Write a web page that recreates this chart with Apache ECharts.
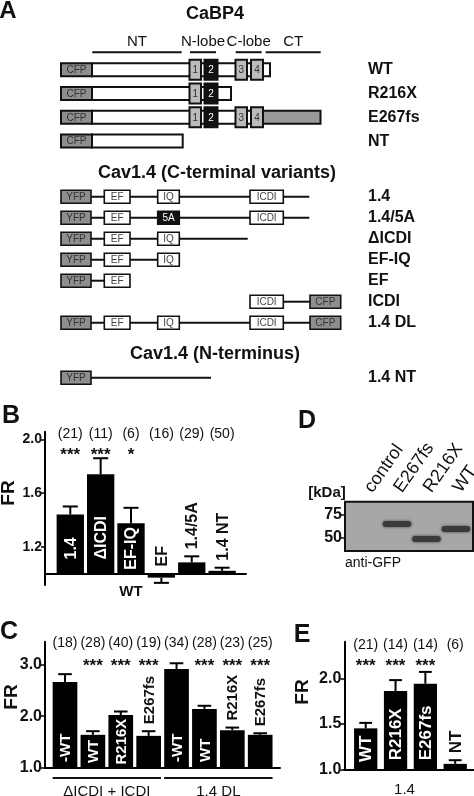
<!DOCTYPE html>
<html>
<head>
<meta charset="utf-8">
<script src="https://cdn.jsdelivr.net/npm/echarts@6/dist/echarts.min.js"></script>
<style>
  html, body { margin: 0; padding: 0; background: #fff; }
  #chart { width: 474px; height: 796px; }
</style>
</head>
<body>
<div id="chart"></div>
<script>
const FONT = '"Liberation Sans", Arial, Helvetica, sans-serif';

// Panel A - construct maps. x in schematic units, first value = row index
const cabpNames = ['WT', 'R216X', 'E267fs', 'NT'];
const cabpParts = [
  [0, 31, 209, 'body', ''], [0, 0, 31, 'fp', 'CFP'],
  [0, 128.5, 140, 'lobe', '1'], [0, 143.5, 156.5, 'lobeDark', '2'],
  [0, 174.5, 186, 'lobe', '3'], [0, 190, 202, 'lobe', '4'],
  [1, 31, 170, 'body', ''], [1, 0, 31, 'fp', 'CFP'],
  [1, 128.5, 140, 'lobe', '1'], [1, 143.5, 156.5, 'lobeDark', '2'],
  [2, 31, 202, 'body', ''], [2, 202, 259.5, 'tail', ''], [2, 0, 31, 'fp', 'CFP'],
  [2, 128.5, 140, 'lobe', '1'], [2, 143.5, 156.5, 'lobeDark', '2'],
  [2, 174.5, 186, 'lobe', '3'], [2, 190, 202, 'lobe', '4'],
  [3, 31, 121.7, 'body', ''], [3, 0, 31, 'fp', 'CFP']
];
const cabpRegions = [['NT', 31.3, 120.7], ['N-lobe', 129, 155], ['C-lobe', 174.7, 200.7], ['CT', 204.7, 259.7]];

const cavNames = ['1.4', '1.4/5A', '\u0394ICDI', 'EF-IQ', 'EF', 'ICDI', '1.4 DL'];
const cavParts = [
  [0, 30, 248.3, 'line'], [0, 0, 30, 'fp2', 'YFP'], [0, 43.3, 69, 'dom', 'EF'], [0, 96.7, 118.3, 'dom', 'IQ'], [0, 189, 222.3, 'dom', 'ICDI'],
  [1, 30, 248.3, 'line'], [1, 0, 30, 'fp2', 'YFP'], [1, 43.3, 69, 'dom', 'EF'], [1, 96.7, 118.3, 'domDark', '5A'], [1, 189, 222.3, 'dom', 'ICDI'],
  [2, 30, 186.7, 'line'], [2, 0, 30, 'fp2', 'YFP'], [2, 43.3, 69, 'dom', 'EF'], [2, 96.7, 118.3, 'dom', 'IQ'],
  [3, 30, 96.7, 'line'], [3, 0, 30, 'fp2', 'YFP'], [3, 43.3, 69, 'dom', 'EF'], [3, 96.7, 118.3, 'dom', 'IQ'],
  [4, 30, 43.3, 'line'], [4, 0, 30, 'fp2', 'YFP'], [4, 43.3, 69, 'dom', 'EF'],
  [5, 222.3, 249, 'line'], [5, 189, 222.3, 'dom', 'ICDI'], [5, 249, 279.7, 'fp2', 'CFP'],
  [6, 30, 249, 'line'], [6, 0, 30, 'fp2', 'YFP'], [6, 43.3, 69, 'dom', 'EF'], [6, 96.7, 118.3, 'dom', 'IQ'], [6, 189, 222.3, 'dom', 'ICDI'], [6, 249, 279.7, 'fp2', 'CFP']
];
const ntNames = ['1.4 NT'];
const ntParts = [[0, 30, 150, 'line'], [0, 0, 30, 'fp2', 'YFP']];

// Panel B - FR of CaBP4 WT with Cav1.4 variants
const bLabels = ['1.4', '\u0394ICDI', 'EF-IQ', 'EF', '1.4/5A', '1.4 NT'];
const bMean = [1.44, 1.74, 1.375, 0.969, 1.083, 1.02];
const bErr = [1.50, 1.86, 1.49, 0.93, 1.128, 1.043];
const bN = ['(21)', '(11)', '(6)', '(16)', '(29)', '(50)'];
const bSig = ['***', '***', '*', '', '', ''];
const bTicks = [1.2, 1.6, 2.0];
const bGroups = [[0, 4, 'WT', false]];

// Panel C
const cLabels = ['-WT', 'WT', 'R216X', 'E267fs', '-WT', 'WT', 'R216X', 'E267fs'];
const cMean = [2.66, 1.64, 2.02, 1.62, 2.91, 2.14, 1.73, 1.64];
const cErr = [2.81, 1.71, 2.09, 1.71, 3.02, 2.20, 1.78, 1.67];
const cN = ['(18)', '(28)', '(40)', '(19)', '(34)', '(28)', '(23)', '(25)'];
const cSig = ['', '***', '***', '***', '', '***', '***', '***'];
const cTicks = [1.0, 2.0, 3.0];
const cGroups = [[0, 3, '\u0394ICDI + ICDI', true], [4, 7, '1.4 DL', true]];

// Panel D - western blot, anti-GFP
const lanes = ['control', 'E267fs', 'R216X', 'WT'];
const bands = [[1, 65], [2, 49], [3, 59.6]]; // lane, apparent size (kDa)
const markers = [75, 50];

// Panel E
const eLabels = ['WT', 'R216X', 'E267fs', 'NT'];
const eMean = [1.45, 1.86, 1.94, 1.06];
const eErr = [1.51, 1.98, 2.07, 1.10];
const eN = ['(21)', '(14)', '(14)', '(6)'];
const eSig = ['***', '***', '***', ''];
const eTicks = [1.0, 1.5, 2.0];
const eGroups = [[0, 2.6, '1.4', false]];

const partStyle = {
  fp: { fill: '#8e8e8e', h: 13, lw: 2, text: '#333' },
  fp2: { fill: '#8e8e8e', h: 13, lw: 1.6, text: '#333' },
  body: { fill: '#fff', h: 13, lw: 2 },
  tail: { fill: '#9a9a9a', h: 13, lw: 2 },
  lobe: { fill: '#bcbcbc', h: 20, lw: 2, text: '#333' },
  lobeDark: { fill: '#111', h: 20, lw: 2, text: '#fff' },
  dom: { fill: '#fff', h: 13, lw: 1.6, text: '#444' },
  domDark: { fill: '#111', h: 13, lw: 1.6, text: '#fff' }
};

const measureCtx = document.createElement('canvas').getContext('2d');
function textWidth(t, font) {
  measureCtx.font = font;
  return measureCtx.measureText(t).width;
}

function partRenderer(parts) {
  return function (params, api) {
    const p = parts[params.dataIndex];
    const a = api.coord([p[1], p[0]]);
    const b = api.coord([p[2], p[0]]);
    if (p[3] === 'line') {
      return { type: 'line', shape: { x1: a[0], y1: a[1], x2: b[0], y2: b[1] }, style: { stroke: '#111', lineWidth: 2 } };
    }
    const st = partStyle[p[3]];
    const children = [{
      type: 'rect',
      shape: { x: a[0], y: a[1] - st.h / 2, width: b[0] - a[0], height: st.h },
      style: { fill: st.fill, stroke: '#111', lineWidth: st.lw }
    }];
    if (p[4]) {
      children.push({
        type: 'text', x: (a[0] + b[0]) / 2, y: a[1] + 0.5,
        style: { text: p[4], fill: st.text, font: '10px ' + FONT, align: 'center', verticalAlign: 'middle' }
      });
    }
    return { type: 'group', children: children };
  };
}

function regionRenderer(params, api) {
  const r = cabpRegions[params.dataIndex];
  const a = api.coord([r[1], 0]);
  const b = api.coord([r[2], 0]);
  const y = a[1] - 17.5;
  return {
    type: 'group',
    children: [
      { type: 'line', shape: { x1: a[0], y1: y, x2: b[0], y2: y }, style: { stroke: '#111', lineWidth: 2 } },
      { type: 'text', x: (a[0] + b[0]) / 2, y: y - 10, style: { text: r[0], font: '15px ' + FONT, fill: '#111', align: 'center', verticalAlign: 'middle' } }
    ]
  };
}

// bars with one-sided error bars, n counts, stars and rotated labels
function barRenderer(d) {
  return function (params, api) {
    const i = params.dataIndex;
    const base = api.coord([i, 1]);
    const top = api.coord([i, d.mean[i]]);
    const err = api.coord([i, d.err[i]]);
    const half = api.size([d.barW, 0])[0] / 2;
    const cap = half * 0.55;
    const ceil = api.coord([i, d.yMax])[1];
    const children = [
      { type: 'rect', shape: { x: base[0] - half, y: Math.min(base[1], top[1]), width: half * 2, height: Math.abs(top[1] - base[1]) }, style: { fill: '#000' } },
      { type: 'line', shape: { x1: top[0], y1: top[1], x2: err[0], y2: err[1] }, style: { stroke: '#000', lineWidth: 2 } },
      { type: 'line', shape: { x1: err[0] - cap, y1: err[1], x2: err[0] + cap, y2: err[1] }, style: { stroke: '#000', lineWidth: 2 } },
      { type: 'text', x: base[0], y: ceil + d.nDy, style: { text: d.n[i], font: '14px ' + FONT, fill: '#111', align: 'center', verticalAlign: 'middle' } }
    ];
    if (d.sig[i]) {
      children.push({ type: 'text', x: base[0], y: ceil + d.sDy, style: { text: d.sig[i], font: 'bold 17px ' + FONT, fill: '#111', align: 'center', verticalAlign: 'middle' } });
    }
    const font = 'bold ' + d.fs + 'px ' + FONT;
    const w = textWidth(d.labels[i], font);
    const barPx = base[1] - top[1];
    let lab;
    if (barPx >= w + 4) {
      lab = { y: base[1] - Math.min(d.pad, Math.max(2, (barPx - w) / 2)), fill: '#fff' };
    } else {
      lab = { y: Math.min(base[1], err[1]) - 7, fill: '#111' };
    }
    children.push({
      type: 'text', x: base[0] + 1, y: lab.y, rotation: Math.PI / 2,
      style: { text: d.labels[i], font: font, fill: lab.fill, align: 'left', verticalAlign: 'middle' }
    });
    return { type: 'group', children: children };
  };
}

function groupRenderer(groups, barW, lineDy, textDy, font) {
  return function (params, api) {
    const g = groups[params.dataIndex];
    const a = api.coord([g[0], 1]);
    const b = api.coord([g[1], 1]);
    const half = api.size([barW, 0])[0] / 2;
    const children = [];
    if (g[3]) {
      children.push({ type: 'line', shape: { x1: a[0] - half, y1: a[1] + lineDy, x2: b[0] + half, y2: a[1] + lineDy }, style: { stroke: '#111', lineWidth: 2 } });
    }
    children.push({ type: 'text', x: (a[0] + b[0]) / 2, y: a[1] + textDy, style: { text: g[2], font: font, fill: '#111', align: 'center', verticalAlign: 'middle' } });
    return { type: 'group', children: children };
  };
}

function bandRenderer(params, api) {
  const c = api.coord([api.value(0), api.value(1)]);
  const half = api.size([0.97, 0])[0] / 2;
  return {
    type: 'rect',
    shape: { x: c[0] - half, y: c[1] - 3, width: half * 2, height: 6, r: 3 },
    style: { fill: '#3a3a3a', shadowBlur: 3, shadowColor: 'rgba(40,40,40,0.8)' }
  };
}

// lane names written slanted above the blot
function laneRenderer(params, api) {
  const c = api.coord([params.dataIndex, 88.6]);
  return {
    type: 'text', x: c[0] + 1, y: c[1] - 11, rotation: 55 * Math.PI / 180,
    style: { text: lanes[params.dataIndex], font: '18px ' + FONT, fill: '#111', align: 'left', verticalAlign: 'middle' }
  };
}

const hiddenX = (gi, min, max) => ({
  gridIndex: gi, type: 'value', min: min, max: max, show: false
});
const rowAxis = (gi, names, max) => ({
  gridIndex: gi, type: 'value', inverse: true, min: -0.5, max: max, position: 'right',
  axisLine: { show: false, onZero: false }, axisTick: { show: false }, splitLine: { show: false },
  axisLabel: {
    customValues: names.map((n, i) => i), formatter: v => names[Math.round(v)],
    margin: 27, fontSize: 16, fontWeight: 'bold', color: '#111', fontFamily: FONT
  }
});
const frAxis = (gi, min, max, ticks, fs) => ({
  gridIndex: gi, type: 'value', min: min, max: max,
  axisLine: { show: true, onZero: false, lineStyle: { color: '#000', width: 2 } },
  axisTick: { show: true, length: 4, customValues: ticks, lineStyle: { color: '#000', width: 1.5 } },
  axisLabel: { customValues: ticks, formatter: v => v.toFixed(1), margin: 3, fontSize: fs, fontWeight: 'bold', color: '#111', fontFamily: FONT },
  splitLine: { show: false }
});
const barX = (gi, min, max, line) => ({
  gridIndex: gi, type: 'value', min: min, max: max,
  axisLine: { show: line, onZero: false, lineStyle: { color: '#000', width: 2 } },
  axisTick: { show: false }, axisLabel: { show: false }, splitLine: { show: false }
});

const bData = { mean: bMean, err: bErr, n: bN, sig: bSig, labels: bLabels, barW: 0.9, yMax: 2.058, nDy: 2, sDy: 24, fs: 16, pad: 14 };
const cData = { mean: cMean, err: cErr, n: cN, sig: cSig, labels: cLabels, barW: 0.885, yMax: 3.436, nDy: 1, sDy: 25, fs: 15, pad: 6 };
const eData = { mean: eMean, err: eErr, n: eN, sig: eSig, labels: eLabels, barW: 0.78, yMax: 2.402, nDy: 3, sDy: 25, fs: 17, pad: 9 };

const texts = [
  ['A', 8, 11, 'bold 24px'], ['B', 11, 416, 'bold 25px'], ['C', 9, 632, 'bold 25px'],
  ['D', 307, 421, 'bold 25px'], ['E', 302, 635, 'bold 25px'],
  ['CaBP4', 215, 14, 'bold 18px'], ['Cav1.4 (C-terminal variants)', 217, 173, 'bold 18px'],
  ['Cav1.4 (N-terminus)', 215, 354, 'bold 18px'], ['[kDa]', 327, 493, 'bold 15px']
];
const graphics = texts.map(t => ({
  type: 'text', x: t[1], y: t[2],
  style: { text: t[0], font: t[3] + ' ' + FONT, fill: '#111', align: 'center', verticalAlign: 'middle' }
}));
graphics.push({ type: 'text', x: 345, y: 563, style: { text: 'anti-GFP', font: '14px ' + FONT, fill: '#111', align: 'left', verticalAlign: 'middle' } });
[[9, 493], [12, 697], [303, 692]].forEach(p => graphics.push({
  type: 'text', x: p[0], y: p[1], rotation: Math.PI / 2,
  style: { text: 'FR', font: 'bold 19px ' + FONT, fill: '#111', align: 'center', verticalAlign: 'middle' }
}));

const chart = echarts.init(document.getElementById('chart'), null, { renderer: 'canvas' });
chart.setOption({
  animation: false,
  backgroundColor: '#fff',
  grid: [
    { left: 61, top: 57.8, width: 280, height: 95.2 },
    { left: 61, top: 186.2, width: 280, height: 147 },
    { left: 61, top: 367.2, width: 280, height: 21 },
    { left: 45, top: 431.7, width: 201.7, height: 153.3 },
    { left: 45, top: 641.7, width: 235, height: 126.3 },
    { left: 345, top: 501.7, width: 128, height: 49.3, show: true, backgroundColor: '#a7a7a7', borderColor: '#111', borderWidth: 2 },
    { left: 344.3, top: 641.7, width: 129.7, height: 127.6 }
  ],
  xAxis: [
    hiddenX(0, 0, 280), hiddenX(1, 0, 280), hiddenX(2, 0, 280),
    barX(3, -0.833, 5.81, false),
    barX(4, -0.717, 7.71, true),
    hiddenX(5, -0.763, 3.58),
    barX(6, -0.718, 3.63, true)
  ],
  yAxis: [
    rowAxis(0, cabpNames, 3.5), rowAxis(1, cavNames, 6.5), rowAxis(2, ntNames, 0.5),
    frAxis(3, 0.914, 2.058, bTicks, 14),
    frAxis(4, 1.0, 3.436, cTicks, 16),
    {
      gridIndex: 5, type: 'value', min: 36.2, max: 88.6,
      axisLine: { show: false, onZero: false },
      axisTick: { show: true, length: 5, customValues: markers, lineStyle: { color: '#111', width: 1.5 } },
      axisLabel: { customValues: markers, margin: 3, fontSize: 16, fontWeight: 'bold', color: '#111', fontFamily: FONT },
      splitLine: { show: false }
    },
    frAxis(6, 1.0, 2.402, eTicks, 16)
  ],
  graphic: graphics,
  series: [
    { type: 'custom', xAxisIndex: 0, yAxisIndex: 0, renderItem: regionRenderer, data: cabpRegions.map(r => [r[1], 0, r[2]]) },
    { type: 'custom', xAxisIndex: 0, yAxisIndex: 0, renderItem: partRenderer(cabpParts), data: cabpParts.map(p => [p[1], p[0], p[2]]) },
    { type: 'custom', xAxisIndex: 1, yAxisIndex: 1, renderItem: partRenderer(cavParts), data: cavParts.map(p => [p[1], p[0], p[2]]) },
    { type: 'custom', xAxisIndex: 2, yAxisIndex: 2, renderItem: partRenderer(ntParts), data: ntParts.map(p => [p[1], p[0], p[2]]) },
    {
      type: 'custom', xAxisIndex: 3, yAxisIndex: 3, renderItem: barRenderer(bData),
      data: bMean.map((v, i) => [i, v, bErr[i]]),
      markLine: { silent: true, symbol: 'none', label: { show: false }, lineStyle: { color: '#000', width: 2, type: 'solid' }, data: [{ yAxis: 1 }] }
    },
    { type: 'custom', xAxisIndex: 3, yAxisIndex: 3, renderItem: groupRenderer(bGroups, 0.9, 0, 18, 'bold 15px ' + FONT), data: bGroups.map(g => [g[0], 1, g[1]]) },
    { type: 'custom', xAxisIndex: 4, yAxisIndex: 4, renderItem: barRenderer(cData), data: cMean.map((v, i) => [i, v, cErr[i]]) },
    { type: 'custom', xAxisIndex: 4, yAxisIndex: 4, renderItem: groupRenderer(cGroups, 0.885, 10, 24, '15px ' + FONT), data: cGroups.map(g => [g[0], 1, g[1]]) },
    { type: 'custom', xAxisIndex: 5, yAxisIndex: 5, renderItem: bandRenderer, data: bands },
    { type: 'custom', xAxisIndex: 5, yAxisIndex: 5, renderItem: laneRenderer, data: lanes.map((l, i) => [i, 88.6]) },
    { type: 'custom', xAxisIndex: 6, yAxisIndex: 6, renderItem: barRenderer(eData), data: eMean.map((v, i) => [i, v, eErr[i]]) },
    { type: 'custom', xAxisIndex: 6, yAxisIndex: 6, renderItem: groupRenderer(eGroups, 0.78, 0, 21, '15px ' + FONT), data: eGroups.map(g => [g[0], 1, g[1]]) }
  ]
});
</script>
</body>
</html>
